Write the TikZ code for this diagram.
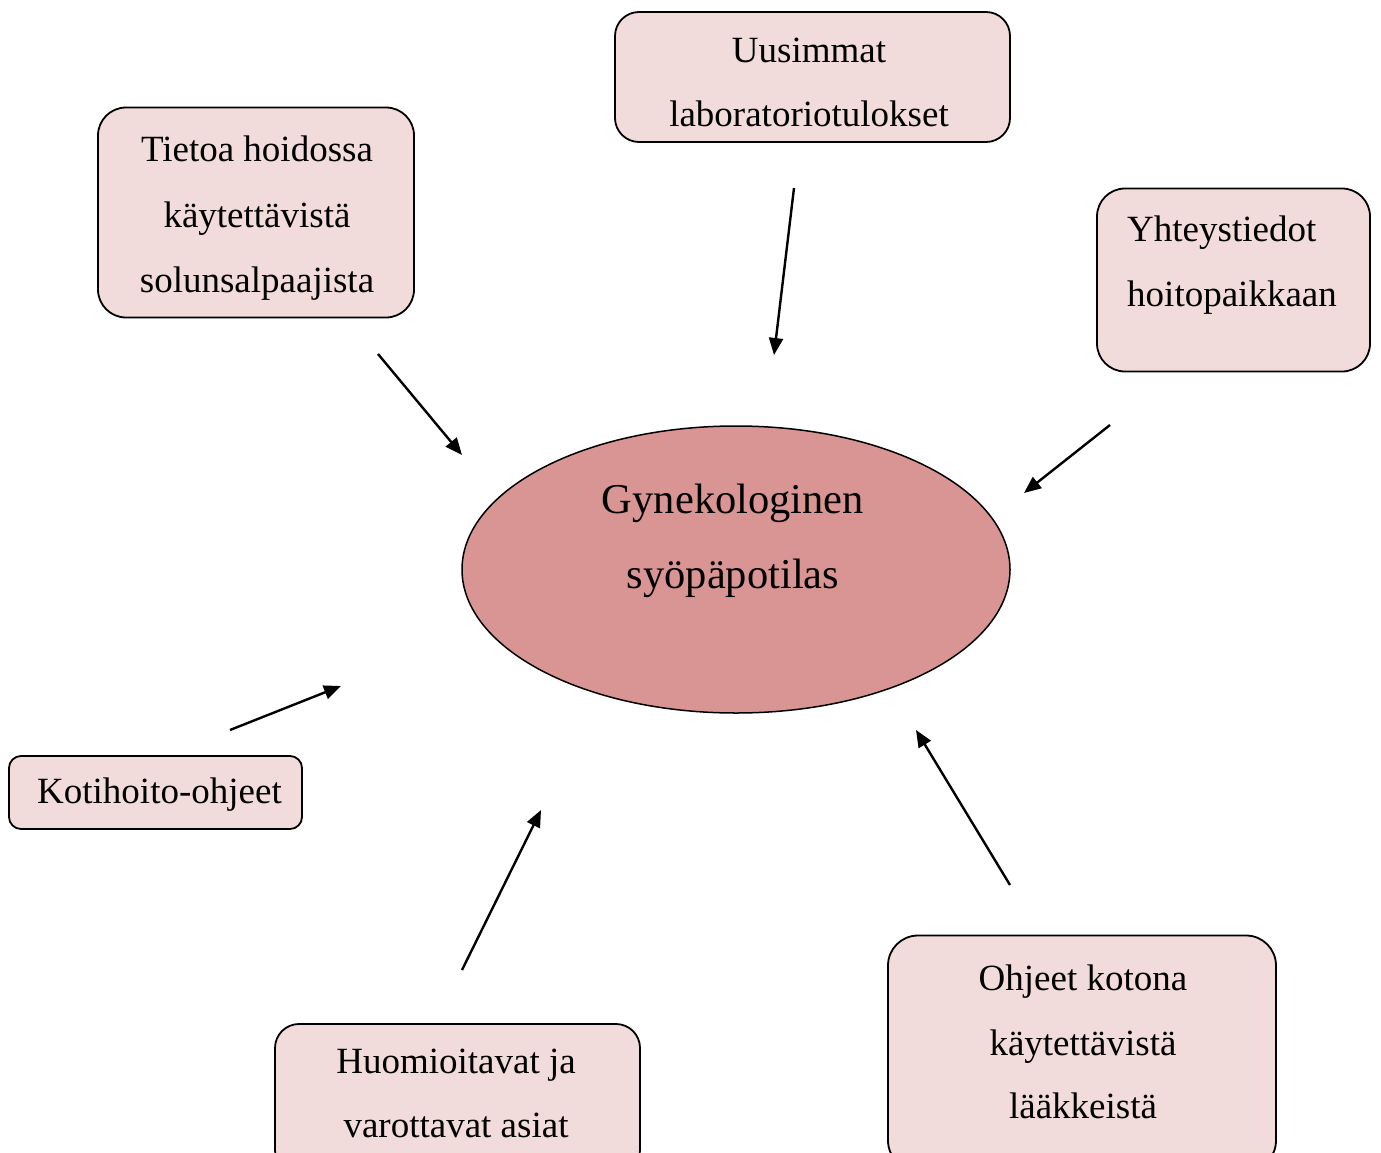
\documentclass[tikz,border=0pt]{standalone}
\usepackage{fontspec}
\setmainfont{Liberation Serif}
\usetikzlibrary{arrows.meta,shapes.geometric}
\definecolor{boxfill}{HTML}{F2DCDB}
\definecolor{ellfill}{HTML}{D99594}
\tikzset{
  box/.style={draw=black, line width=1.8pt, fill=boxfill, rounded corners=28pt, inner sep=0pt},
  txt/.style={font=\fontsize{37}{65}\selectfont, inner sep=0pt, align=center},
  txtl/.style={font=\fontsize{37}{65}\selectfont, inner sep=0pt, align=left},
  etxt/.style={font=\fontsize{42.5}{75}\selectfont, inner sep=0pt, align=center},
  arr/.style={line width=2.4pt, -{Triangle[length=17pt, width=14pt]}}
}
\begin{document}
\begin{tikzpicture}[x=1pt, y=-1pt]
\useasboundingbox (0,0) rectangle (1381,1153);
\clip (0,0) rectangle (1381,1153);
\fill[white] (0,0) rectangle (1381,1153);

% centre ellipse
\node[draw=black, line width=1.5pt, fill=ellfill, ellipse, minimum width=548pt, minimum height=287pt, inner sep=0pt] (pat) at (736,569.5) {};
\node[etxt, anchor=base] (patA) at (733,513) {Gynekologinen};
\node[etxt, anchor=base] (patB) at (733,588) {syöpäpotilas};

% boxes
\node[box, minimum width=316pt, minimum height=210pt] (bA) at (256,212.5) {};
\node[txt, anchor=base] (tA1) at (257,161) {Tietoa hoidossa};
\node[txt, anchor=base] (tA2) at (257,227) {käytettävistä};
\node[txt, anchor=base] (tA3) at (257,292) {solunsalpaajista};

\node[box, minimum width=395pt, minimum height=130pt, rounded corners=24pt] (bB) at (812.5,77) {};
\node[txt, anchor=base] (tB1) at (809,63) {Uusimmat};
\node[txt, anchor=base] (tB2) at (809,127) {laboratoriotulokset};

\node[box, minimum width=273pt, minimum height=183pt] (bC) at (1233.5,280) {};
\node[txtl, anchor=base west] (tC1) at (1127,241) {Yhteystiedot};
\node[txtl, anchor=base west] (tC2) at (1127,306) {hoitopaikkaan};

\node[box, minimum width=293pt, minimum height=73pt, rounded corners=12pt] (bD) at (155.5,792.5) {};
\node[txtl, anchor=base west] (tD) at (37,803) {Kotihoito-ohjeet};

\node[box, minimum width=365pt, minimum height=150pt, rounded corners=24pt] (bE) at (457.5,1099) {};
\node[txt, anchor=base] (tE1) at (456,1073) {Huomioitavat ja};
\node[txt, anchor=base] (tE2) at (456,1137) {varottavat asiat};

\node[box, minimum width=388pt, minimum height=235pt, rounded corners=30pt] (bF) at (1082,1053) {};
\node[txt, anchor=base] (tF1) at (1083,990) {Ohjeet kotona};
\node[txt, anchor=base] (tF2) at (1083,1055) {käytettävistä};
\node[txt, anchor=base] (tF3) at (1083,1118) {lääkkeistä};

% arrow ends
\coordinate (a1s) at (378,354);  \coordinate (a1e) at (462,455);
\coordinate (a2s) at (794,188);  \coordinate (a2e) at (774,355);
\coordinate (a3s) at (1110,425); \coordinate (a3e) at (1024,493);
\coordinate (a4s) at (230,730);  \coordinate (a4e) at (341,686);
\coordinate (a5s) at (462,970);  \coordinate (a5e) at (541,810);
\coordinate (a6s) at (1010,885); \coordinate (a6e) at (916,730);

\draw[arr] (a1s) -- (a1e);
\draw[arr] (a2s) -- (a2e);
\draw[arr] (a3s) -- (a3e);
\draw[arr] (a4s) -- (a4e);
\draw[arr] (a5s) -- (a5e);
\draw[arr] (a6s) -- (a6e);
\end{tikzpicture}
\end{document}
